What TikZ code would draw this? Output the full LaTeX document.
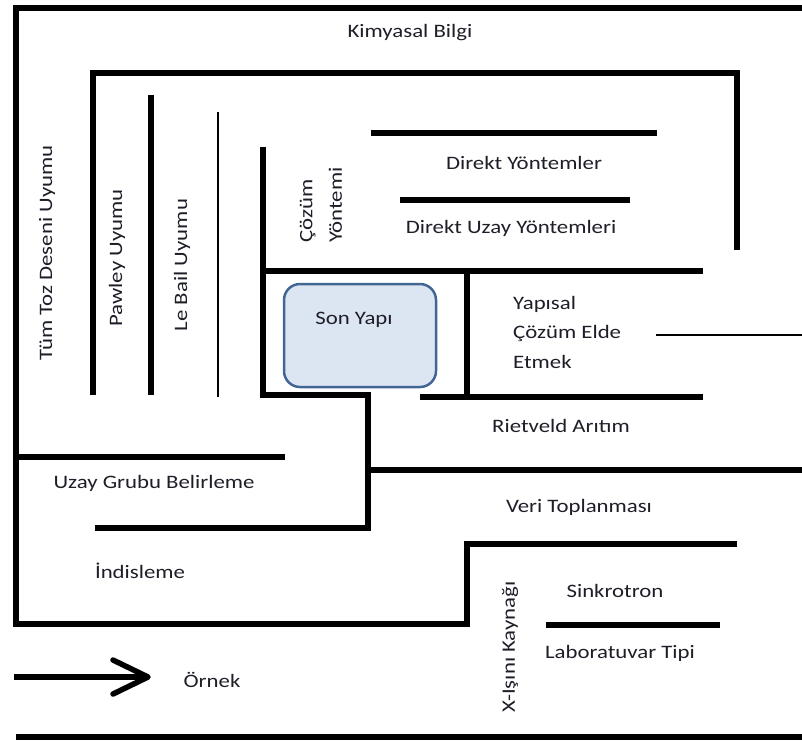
\documentclass[tikz,border=0pt]{standalone}
\usepackage{fontspec}
\setmainfont{Carlito}[FakeStretch=1.2]
\begin{document}
\begin{tikzpicture}[x=1pt,y=-1pt,
  thickline/.style={line width=5.5pt},
  thinline/.style={line width=2pt},
  lbl/.style={font=\fontsize{19}{29.5}\selectfont, text={rgb,255:red,30;green,30;blue,40}, inner sep=0pt},
  vlbl/.style={lbl, rotate=90}]
\definecolor{sonborder}{RGB}{66,102,148}
\definecolor{sonfill}{RGB}{220,230,242}
\useasboundingbox (0,0) rectangle (802,740);
% frames and separators
\draw[thickline] (802,8) -- (16,8) -- (16,624) -- (467,624) -- (467,544) -- (737,544);
\draw[thickline] (93,395) -- (93,73) -- (737,73) -- (737,250);
\draw[thickline] (151,95) -- (151,395);
\draw[thinline] (218,112) -- (218,397);
\draw[thickline] (263,147) -- (263,395) -- (368,395) -- (368,528) -- (95,528);
\draw[thickline] (263,271) -- (703,271);
\draw[thickline] (467,271) -- (467,397);
\draw[thickline] (420,397) -- (703,397);
\draw[thickline] (368,470) -- (802,470);
\draw[thickline] (16,457) -- (285,457);
\draw[thickline] (371,133) -- (657,133);
\draw[thickline] (400,200) -- (630,200);
\draw[thinline] (656,335) -- (802,335);
\draw[thickline] (546,625) -- (720,625);
\draw[thickline] (16,737) -- (802,737);
% legend arrow
\coordinate (arrS) at (14,677);
\coordinate (arrE) at (148,677);
\draw[thickline] (arrS) -- (arrE);
\draw[thickline, line cap=round, line join=round] (113,660) -- (arrE) -- (113,694);
% Son Yapi box
\node[draw=sonborder, fill=sonfill, line width=2.5pt, rounded corners=16pt,
      minimum width=152pt, minimum height=103pt, inner sep=0pt] (son) at (360,335.5) {};
\node[lbl] (sonlbl) at (354,320) {Son Yapı};
% labels
\node[lbl] (kimya) at (410,33) {Kimyasal Bilgi};
\node[lbl] (direkt) at (524,163) {Direkt Yöntemler};
\node[lbl] (duzay) at (511,228) {Direkt Uzay Yöntemleri};
\node[vlbl, align=left] (cozum) at (321,205) {Çözüm\\Yöntemi};
\node[vlbl] (tumtoz) at (47,253) {Tüm Toz Deseni Uyumu};
\node[vlbl] (pawley) at (117,258) {Pawley Uyumu};
\node[vlbl] (lebail) at (182,265) {Le Bail Uyumu};
\node[lbl, align=left, anchor=west] (yapisal) at (513,332) {Yapısal\\Çözüm Elde\\Etmek};
\node[lbl] (rietveld) at (561,426) {Rietveld Arıtım};
\node[lbl] (uzay) at (154,483) {Uzay Grubu Belirleme};
\node[lbl] (veri) at (579,507) {Veri Toplanması};
\node[lbl] (indis) at (140,571) {İndisleme};
\node[lbl] (ornek) at (212,680) {Örnek};
\node[lbl] (sinkro) at (615,591) {Sinkrotron};
\node[lbl] (lab) at (620,653) {Laboratuvar Tipi};
\node[vlbl] (xisini) at (510,647) {X-Işını Kaynağı};
\end{tikzpicture}
\end{document}
